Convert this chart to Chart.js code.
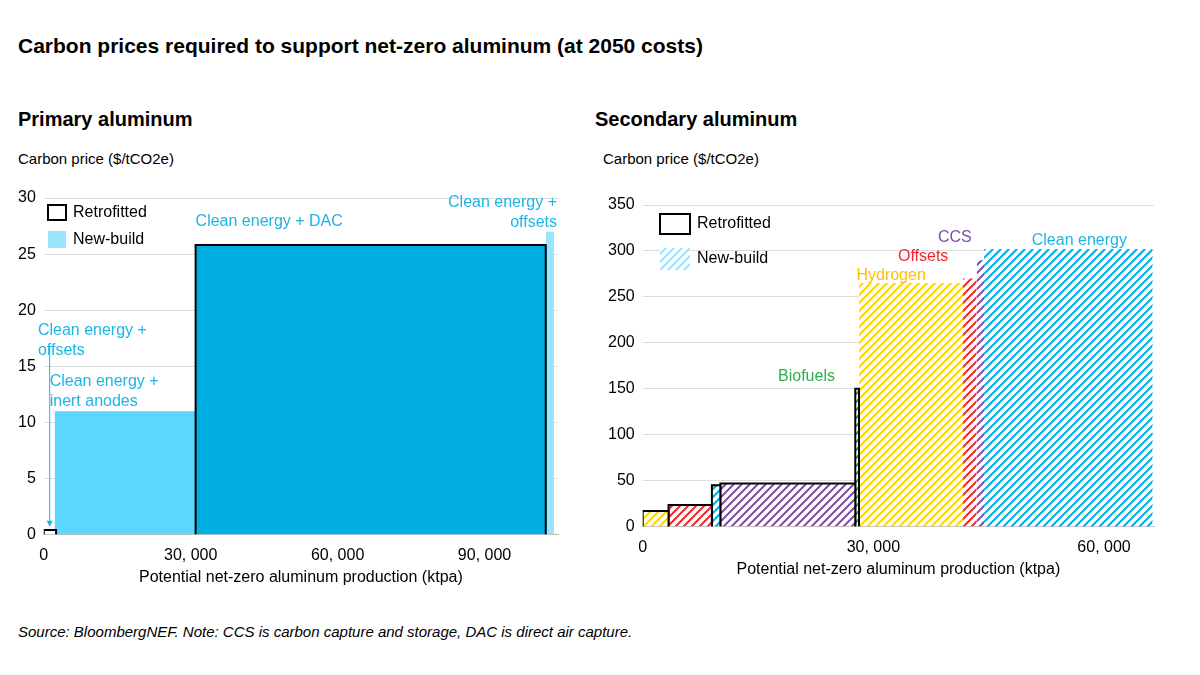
<!DOCTYPE html>
<html><head><meta charset="utf-8">
<script src="https://cdn.jsdelivr.net/npm/chart.js@4"></script>
<style>
body{margin:0;width:1200px;height:675px;background:#fff;font-family:"Liberation Sans",Arial,sans-serif;position:relative;overflow:hidden}
.t{position:absolute;white-space:nowrap;color:#000}
canvas{position:absolute}
</style></head><body>
<div class="t" style="left:18px;top:34px;font-size:21px;font-weight:bold">Carbon prices required to support net-zero aluminum (at 2050 costs)</div>
<div class="t" style="left:18px;top:108px;font-size:20px;font-weight:bold">Primary aluminum</div>
<div class="t" style="left:595px;top:108px;font-size:20px;font-weight:bold">Secondary aluminum</div>
<div class="t" style="left:18px;top:150px;font-size:15px">Carbon price ($/tCO2e)</div>
<div class="t" style="left:603px;top:150px;font-size:15px">Carbon price ($/tCO2e)</div>
<div class="t" style="left:18px;top:623px;font-size:15px;font-style:italic">Source: BloombergNEF. Note: CCS is carbon capture and storage, DAC is direct air capture.</div>
<canvas id="c1" style="left:0;top:180px;width:580px;height:415px"></canvas>
<canvas id="c2" style="left:590px;top:180px;width:600px;height:415px"></canvas>
<script>
// Primary aluminum
const pStart = [0, 2200, 31000, 102500];
const pEnd   = [2500, 31000, 102500, 104200];
const pPrice = [0.4, 11, 25.8, 27];
const pType  = ["retro", "new", "retro", "new"];
const pColor = ["#ffffff", "#5CD6FF", "#00AEE4", "#9BE4FF"];
// Secondary aluminum
const sStart = [0, 3360, 9000, 10100, 27650, 28130, 41660, 43440, 44400];
const sEnd   = [3360, 9000, 10100, 27650, 28130, 41660, 43440, 44400, 66330];
const sPrice = [17, 23.6, 45, 47, 150, 265, 270, 290, 302];
const sType  = ["retro","retro","retro","retro","retro","new","new","new","new"];
const sColor = ["#FFD700","#F0282D","#00AEE4","#7F4FA6","#2DAE4A","#FFD700","#F0282D","#7F4FA6","#00AEE4"];
const leftTicks = [0, 30000, 60000, 90000];
const rightTicks = [0, 30000, 60000];

function hatch(color){
  const c=document.createElement('canvas');c.width=8;c.height=8;
  const x=c.getContext('2d');x.fillStyle='#fff';x.fillRect(0,0,8,8);
  x.strokeStyle=color;x.lineWidth=2;x.beginPath();
  x.moveTo(-2,10);x.lineTo(10,-2);x.moveTo(-2,2);x.lineTo(2,-2);x.moveTo(6,10);x.lineTo(10,6);x.stroke();
  return x.createPattern(c,'repeat');
}
function rects(start,end,price,type,color,pattern){
  return start.map((s,i)=>({
    data:[{x:s,y:0},{x:s,y:price[i]},{x:end[i],y:price[i]},{x:end[i],y:0}],
    showLine:true,fill:'origin',pointRadius:0,tension:0,
    backgroundColor: pattern ? hatch(color[i]) : color[i],
    borderColor:'#000',borderWidth: type[i]==='retro'?2:0,
    order: type[i]==='retro'?0:1
  }));
}
const F="'Liberation Sans', Arial, sans-serif";
function labelPlugin(items){
  return {id:'lbl',afterDatasetsDraw(ch){
    const ctx=ch.ctx,xs=ch.scales.x,ys=ch.scales.y;ctx.save();
    ctx.font='16px '+F;
    items.forEach(it=>{
      ctx.fillStyle=it.c;ctx.textAlign=it.a||'left';ctx.textBaseline='alphabetic';
      it.t.forEach((ln,k)=>ctx.fillText(ln,xs.getPixelForValue(it.x),ys.getPixelForValue(it.y)+k*20));
      if(it.arrow){ctx.strokeStyle=it.c;ctx.fillStyle=it.c;ctx.lineWidth=1;
        const ax=xs.getPixelForValue(it.arrow[0]),a1=ys.getPixelForValue(it.arrow[1]),a2=ys.getPixelForValue(it.arrow[2]);
        ctx.beginPath();ctx.moveTo(ax,a1);ctx.lineTo(ax,a2-5);ctx.stroke();
        ctx.beginPath();ctx.moveTo(ax-3,a2-6);ctx.lineTo(ax+3,a2-6);ctx.lineTo(ax,a2);ctx.fill();}
    });
    const L=items.legend;ctx.fillStyle='#000';ctx.textAlign='left';ctx.textBaseline='middle';
    ctx.font=L.fs+'px '+F;
    ctx.lineWidth=2;ctx.strokeStyle='#000';ctx.strokeRect(L.x,L.y,L.w,L.h);
    ctx.fillText('Retrofitted',L.x+L.w+7,L.y+L.h/2);
    ctx.fillStyle=L.fill;ctx.fillRect(L.x,L.y+L.dy,L.w,L.h+2);
    ctx.fillStyle='#000';ctx.fillText('New-build',L.x+L.w+7,L.y+L.dy+L.h/2+1);
    ctx.restore();
  }};
}
function opts(xmax,ymax,step,ticks,pad){
  return {responsive:false,animation:false,devicePixelRatio:1,
    layout:{padding:pad},
    plugins:{legend:{display:false},tooltip:{enabled:false}},
    scales:{
      x:{type:'linear',min:0,max:xmax,afterBuildTicks:a=>{a.ticks=ticks.map(v=>({value:v}))},
        grid:{display:false,drawTicks:true},border:{color:'#bfbfbf'},
        ticks:{color:'#000',font:{size:16,family:F},callback:v=>v.toLocaleString('en-US').replace(',',', ')},
        title:{display:true,text:'Potential net-zero aluminum production (ktpa)',color:'#000',font:{size:16,family:F},padding:{top:0}}},
      y:{min:0,max:ymax,ticks:{stepSize:step,color:'#000',font:{size:16,family:F},padding:8},
        grid:{color:'#dcdcdc',drawTicks:false},border:{display:false}}
    }};
}
const c1=document.getElementById('c1');c1.width=580;c1.height=415;
const items1=[
  {t:['Clean energy +','offsets'],x:104800,y:29.2,c:'#1EB4E6',a:'right'},
  {t:['Clean energy + DAC'],x:31000,y:27.5,c:'#1EB4E6'},
  {t:['Clean energy +','offsets'],x:-1200,y:17.8,c:'#1EB4E6',arrow:[1200,16.8,0.7]},
  {t:['Clean energy +','inert anodes'],x:1200,y:13.2,c:'#1EB4E6'}
];
items1.legend={x:48,y:25,w:18,h:15,dy:26,fs:16,fill:'#9BE4FF'};
new Chart(c1,{type:'scatter',data:{datasets:rects(pStart,pEnd,pPrice,pType,pColor,false)},
  options:opts(105000,30,5,leftTicks,{left:10,right:22,top:18,bottom:4}),plugins:[labelPlugin(items1)]});
const c2=document.getElementById('c2');c2.width=600;c2.height=415;
const items2=[
  {t:['Clean energy'],x:50600,y:306,c:'#1EB4E6'},
  {t:['CCS'],x:38400,y:310,c:'#7F4FA6'},
  {t:['Offsets'],x:33200,y:289,c:'#F0282D'},
  {t:['Hydrogen'],x:27800,y:268,c:'#FFC000'},
  {t:['Biofuels'],x:17600,y:159,c:'#2DAE4A'}
];
items2.legend={x:70,y:34,w:30,h:20,dy:34,fs:16,fill:hatch('#9BE4FF')};
new Chart(c2,{type:'scatter',data:{datasets:rects(sStart,sEnd,sPrice,sType,sColor,true)},
  options:opts(66500,350,50,rightTicks,{left:10,right:36,top:25,bottom:12}),plugins:[labelPlugin(items2)]});
</script></body></html>
